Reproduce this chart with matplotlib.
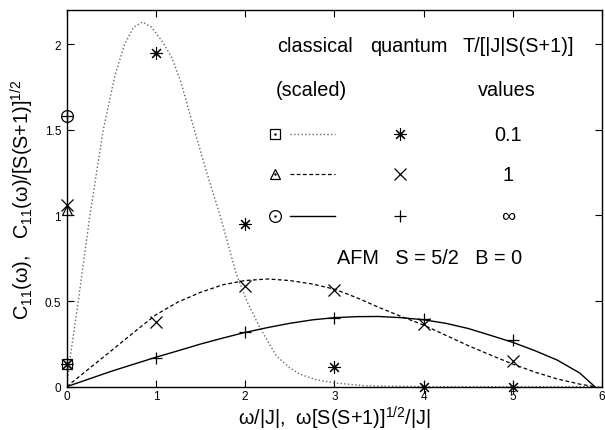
import matplotlib
matplotlib.use("Agg")
import matplotlib.pyplot as plt

plt.rcParams['font.family'] = ['Liberation Sans', 'DejaVu Sans']
plt.rcParams['mathtext.fontset'] = 'custom'
plt.rcParams['mathtext.rm'] = 'Liberation Sans'
plt.rcParams['mathtext.default'] = 'regular'

# classical curves (scaled)
w_dot = [0, 0.037, 0.13, 0.26, 0.41, 0.54, 0.65, 0.75, 0.85, 0.95, 1.08, 1.18, 1.28,
         1.42, 1.57, 1.72, 1.90, 2.02, 2.16, 2.35, 2.5, 2.61, 2.8, 3.0, 3.36, 4.0, 5.0, 6.0]
c_dot = [0, 0.162, 0.5, 1.0, 1.5, 1.815, 2.0, 2.10, 2.13, 2.10, 2.01, 1.92, 1.78,
         1.52, 1.25, 1.0, 0.66, 0.5, 0.35, 0.18, 0.11, 0.074, 0.04, 0.022, 0.005, 0, 0, 0]

w_dash = [0, 0.5, 0.8, 1, 1.25, 1.5, 1.75, 2, 2.25, 2.5, 2.75, 3, 3.25, 3.5, 3.75,
          4, 4.25, 4.5, 4.75, 5, 5.25, 5.5, 5.75, 5.92]
c_dash = [0, 0.21, 0.337, 0.42, 0.495, 0.551, 0.595, 0.62, 0.629, 0.62, 0.60, 0.57,
          0.52, 0.463, 0.41, 0.36, 0.30, 0.24, 0.185, 0.132, 0.085, 0.045, 0.015, 0]

w_sol = [0, 0.25, 0.5, 0.75, 1, 1.25, 1.5, 1.75, 2, 2.25, 2.5, 2.75, 3, 3.25, 3.5,
         3.75, 4, 4.25, 4.5, 4.75, 5, 5.25, 5.5, 5.75, 5.92]
c_sol = [0, 0.045, 0.09, 0.131, 0.172, 0.21, 0.249, 0.284, 0.317, 0.345, 0.37, 0.39,
         0.403, 0.409, 0.41, 0.403, 0.391, 0.37, 0.34, 0.30, 0.259, 0.21, 0.155, 0.08, 0]

# classical values at omega = 0 (T = 0.1, 1, inf)
cl0 = [0.13, 1.03, 1.58]

# quantum results
w_q = [0, 1, 2, 3, 4, 5]
q_01 = [0.13, 1.946, 0.95, 0.113, 0.0, 0.0]
q_1 = [1.06, 0.38, 0.586, 0.566, 0.366, 0.152]
q_inf = [1.58, 0.17, 0.317, 0.401, 0.395, 0.274]

t_labels = ['0.1', '1', '\u221e']

fig = plt.figure(figsize=(6.05, 4.31), dpi=100)
ax = fig.add_axes([0.1102, 0.1005, 0.8848, 0.874])

ast = (8, 2, 0)
ax.plot(w_dot, c_dot, ls=':', color='0.4', lw=1.0)
ax.plot(w_dash, c_dash, ls=(0, (3, 2)), color='black', lw=0.9)
ax.plot(w_sol, c_sol, ls='-', color='black', lw=1.0)

ax.plot([0], cl0[0], 's', ms=6.5, mfc='none', mec='black', mew=0.9, clip_on=False)
ax.plot([0], cl0[1], '^', ms=7, mfc='none', mec='black', mew=0.9, clip_on=False)
ax.plot([0], cl0[2], 'o', ms=8.5, mfc='none', mec='black', mew=0.9, clip_on=False)

ax.plot(w_q, q_01, ls='none', marker=ast, ms=9, mec='black', mew=0.8, clip_on=False)
ax.plot(w_q, q_1, ls='none', marker='x', ms=8, mec='black', mew=0.9, clip_on=False)
ax.plot(w_q, q_inf, ls='none', marker='+', ms=9, mec='black', mew=0.9, clip_on=False)

# key block, axes fraction coordinates
tr = ax.transAxes
fs = 14.3
ax.text(0.463, 0.905, 'classical', transform=tr, ha='center', va='center', fontsize=fs)
ax.text(0.640, 0.905, 'quantum', transform=tr, ha='center', va='center', fontsize=fs)
ax.text(0.843, 0.905, 'T/[|J|S(S+1)]', transform=tr, ha='center', va='center', fontsize=fs)
ax.text(0.458, 0.790, '(scaled)', transform=tr, ha='center', va='center', fontsize=fs)
ax.text(0.823, 0.790, 'values', transform=tr, ha='center', va='center', fontsize=fs)

rows = [0.670, 0.564, 0.454]
cl_marks = [('s', 6.5), ('^', 7), ('o', 8.5)]
styles = [dict(ls=':', color='0.4', lw=1.0),
          dict(ls=(0, (3, 2)), color='black', lw=0.9),
          dict(ls='-', color='black', lw=1.0)]
q_marks = [(ast, 9, 0.8), ('x', 8, 0.9), ('+', 9, 0.9)]
for yy, (m, s), st, (qm, qs, qw), lab in zip(rows, cl_marks, styles, q_marks, t_labels):
    ax.plot([0.39], [yy], m, ms=s, mfc='none', mec='black', mew=0.9, transform=tr)
    ax.plot([0.39], [yy], '.', ms=1.5, color='black', transform=tr)
    ax.plot([0.417, 0.501], [yy, yy], transform=tr, **st)
    ax.plot([0.622], [yy], ls='none', marker=qm, ms=qs, mec='black', mew=qw, transform=tr)
    ax.text(0.825, yy, lab, transform=tr, ha='center', va='center', fontsize=fs)

ax.text(0.677, 0.343, 'AFM   S = 5/2   B = 0', transform=tr, ha='center', va='center',
        fontsize=fs)

ax.set_xlim(0, 6)
ax.set_ylim(0, 2.2)
ax.set_xticks([0, 1, 2, 3, 4, 5, 6])
ax.set_yticks([0, 0.5, 1, 1.5, 2])
ax.set_yticklabels(['0', '0.5', '1', '1.5', '2'])
ax.tick_params(direction='in', length=5, width=0.8, top=True, right=True,
               labelsize=8.5, pad=4)
ax.tick_params(axis='x', pad=2.5)
for sp in ax.spines.values():
    sp.set_linewidth(1.0)

ax.set_xlabel('\u03c9/|J|,  \u03c9[S(S+1)]$^{1/2}$/|J|', fontsize=fs)
ax.set_ylabel('C$_{11}$(\u03c9),   C$_{11}$(\u03c9)/[S(S+1)]$^{1/2}$', fontsize=fs)
ax.xaxis.set_label_coords(0.5, -0.1)
ax.xaxis.label.set_va('baseline')
ax.yaxis.set_label_coords(-0.0835, 0.5)
ax.yaxis.label.set_va('center')

fig.savefig('out.png', dpi=100)
